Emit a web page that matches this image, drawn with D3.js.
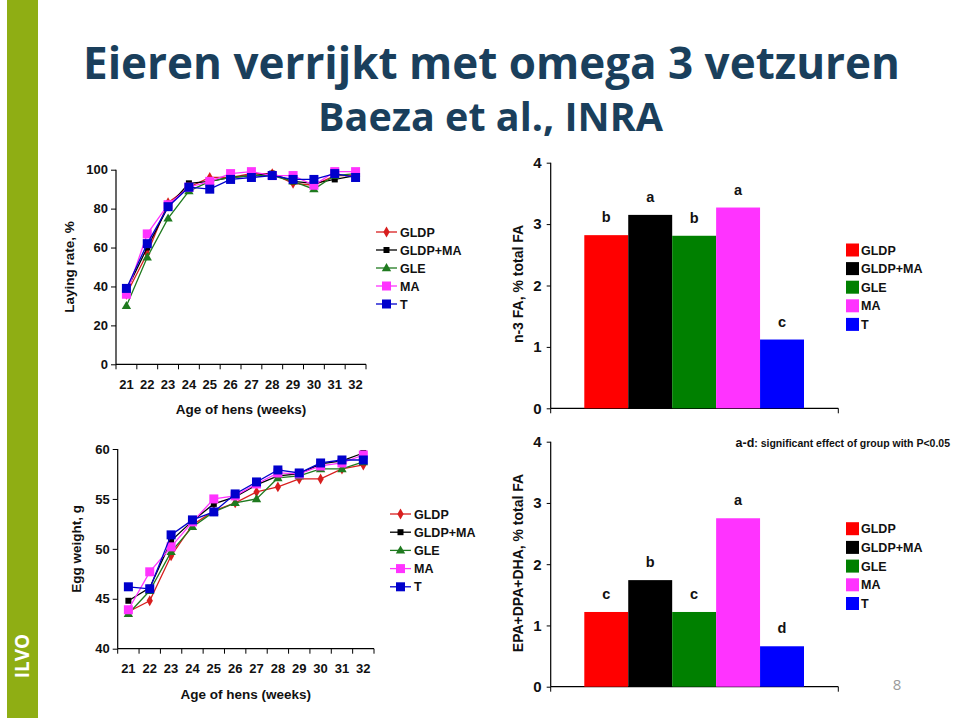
<!DOCTYPE html>
<html><head><meta charset="utf-8">
<script src="https://cdn.jsdelivr.net/npm/d3@7"></script>
<style>
html,body{margin:0;padding:0;background:#fff;}
svg{display:block;font-family:"Liberation Sans",Arial,sans-serif;}
</style></head>
<body>
<svg id="c" width="960" height="718"></svg>
<script>
// ---------- data ----------
const weeks = ["21","22","23","24","25","26","27","28","29","30","31","32"];
const groups = ["GLDP","GLDP+MA","GLE","MA","T"];

const layingGLDP   = [36,57,83,91,96,96,98,98,93,92,97,97];
const layingGLDPMA = [38,60,81,93,94,96,97,98,94,93,95,97];
const layingGLE    = [30,55,75,89,94,96,97,97,94,90,97,98];
const layingMA     = [36,67,82,91,94,98,99,97,97,92,99,99];
const layingT      = [39,62,81,91,90,95,96,97,95,95,98,96];

const eggGLDP   = [43.7,44.8,49.3,52.4,53.8,54.6,55.7,56.2,57.0,57.0,58.0,58.4];
const eggGLDPMA = [44.8,46.1,50.8,52.8,54.5,55.2,56.4,57.3,57.5,58.5,58.8,59.6];
const eggGLE    = [43.5,45.8,49.7,52.2,53.7,54.6,55.0,57.1,57.3,58.0,58.0,58.7];
const eggMA     = [43.9,47.7,50.2,52.7,55.0,55.3,56.5,57.6,57.5,58.3,58.6,59.4];
const eggT      = [46.2,46.0,51.4,52.9,53.7,55.5,56.7,57.9,57.6,58.6,58.9,58.9];

const n3Values  = [2.82,3.15,2.81,3.27,1.12];
const n3Letters = ["b","a","b","a","c"];
const epaValues  = [1.22,1.74,1.22,2.75,0.66];
const epaLetters = ["c","b","c","a","d"];

const layingTicks = [0,20,40,60,80,100];
const eggTicks = [40,45,50,55,60];
const barTicks = [0,1,2,3,4];

// ---------- styles ----------
const lineColors = {"GLDP":"#d81e1e","GLDP+MA":"#000000","GLE":"#1f7a1f","MA":"#ff33ff","T":"#0000cc"};
const barColors  = {"GLDP":"#ff0000","GLDP+MA":"#000000","GLE":"#008000","MA":"#ff33ff","T":"#0000ff"};
const markerType = {"GLDP":"diamond","GLDP+MA":"smallsquare","GLE":"triangle","MA":"square","T":"square"};

const svg = d3.select("#c");

// ---------- slide decoration ----------
svg.append("rect").attr("x",7).attr("y",0).attr("width",31).attr("height",718).attr("fill","#8fae14");
svg.append("text").attr("transform","translate(29,656) rotate(-90)")
  .attr("text-anchor","middle").attr("fill","#fff").attr("font-weight","bold")
  .attr("font-size",19).attr("font-family","Open Sans, sans-serif").text("ILVO");

svg.append("text").attr("x",83).attr("y",79).attr("fill","#1a3f5c")
  .attr("font-family","Open Sans, sans-serif").attr("font-weight","bold").attr("font-size",44)
  .attr("textLength",817).attr("lengthAdjust","spacingAndGlyphs")
  .text("Eieren verrijkt met omega 3 vetzuren");
svg.append("text").attr("x",318).attr("y",131).attr("fill","#1a3f5c")
  .attr("font-family","Open Sans, sans-serif").attr("font-weight","bold").attr("font-size",39)
  .attr("textLength",345).attr("lengthAdjust","spacingAndGlyphs")
  .text("Baeza et al., INRA");

// ---------- line charts ----------
function marker(g, type, color, x, y){
  if(type==="diamond"){
    g.append("path").attr("d",d3.symbol(d3.symbolDiamond,34)()).attr("transform",`translate(${x},${y})`).attr("fill",color);
  } else if(type==="triangle"){
    g.append("path").attr("d",d3.symbol(d3.symbolTriangle,38)()).attr("transform",`translate(${x},${y+0.5})`).attr("fill",color);
  } else if(type==="smallsquare"){
    g.append("rect").attr("x",x-3).attr("y",y-3).attr("width",6).attr("height",6).attr("fill",color);
  } else {
    g.append("rect").attr("x",x-4.5).attr("y",y-4.5).attr("width",9).attr("height",9).attr("fill",color);
  }
}

function lineChart(opt){
  const g = svg.append("g");
  const x = d3.scaleBand().domain(weeks).range([opt.x0,opt.x1]);
  const y = d3.scaleLinear().domain(opt.domain).range([opt.yb,opt.yt]);
  const ya = g.append("g").attr("transform",`translate(${opt.x0},0)`)
    .call(d3.axisLeft(y).tickValues(opt.ticks).tickSize(5).tickPadding(3));
  ya.select(".domain").attr("stroke","#000").attr("stroke-width",1.2).attr("d",`M0,${opt.yb}V${opt.yt}`);
  ya.selectAll("line").attr("stroke","#000");
  ya.selectAll("text").attr("font-size",13).attr("font-weight","bold").attr("font-family","Liberation Sans, Arial").attr("fill","#111");
  const xa = g.append("g").attr("transform",`translate(0,${opt.yb})`)
    .call(d3.axisBottom(x).tickSize(0).tickPadding(15));
  xa.select(".domain").attr("stroke","#000").attr("stroke-width",1.2).attr("d",`M${opt.x0},0H${opt.x1}`);
  xa.selectAll("text").attr("font-size",13).attr("font-weight","bold").attr("font-family","Liberation Sans, Arial").attr("fill","#111");
  const bounds = weeks.map(w=>x(w)).concat([opt.x1]);
  g.selectAll(".xt").data(bounds).enter().append("line")
    .attr("x1",d=>d).attr("x2",d=>d).attr("y1",opt.yb).attr("y2",opt.yb+5).attr("stroke","#000");
  g.append("text").attr("x",(opt.x0+opt.x1)/2).attr("y",opt.yb+50).attr("text-anchor","middle")
    .attr("font-size",13.5).attr("font-weight","bold").attr("fill","#111").text("Age of hens (weeks)");
  g.append("text").attr("transform",`translate(${opt.ytx},${(opt.yb+opt.yt)/2}) rotate(-90)`)
    .attr("text-anchor","middle").attr("font-size",13.5).attr("font-weight","bold").attr("fill","#111").text(opt.ytitle);
  const line = d3.line().x((d,i)=>x(weeks[i])+x.bandwidth()/2).y(d=>y(d));
  groups.forEach((s,k)=>{
    const vals = opt.data[k];
    g.append("path").attr("d",line(vals)).attr("fill","none").attr("stroke",lineColors[s]).attr("stroke-width",1.3);
    vals.forEach((v,i)=>marker(g,markerType[s],lineColors[s],x(weeks[i])+x.bandwidth()/2,y(v)));
  });
  groups.forEach((s,k)=>{
    const ly = opt.legY + k*opt.legStep;
    g.append("line").attr("x1",opt.legX).attr("x2",opt.legX+21).attr("y1",ly).attr("y2",ly)
      .attr("stroke",lineColors[s]).attr("stroke-width",1.3);
    marker(g,markerType[s],lineColors[s],opt.legX+10.5,ly);
    g.append("text").attr("x",opt.legX+24).attr("y",ly+4.5).attr("font-size",12.5)
      .attr("font-weight","bold").attr("fill","#111").text(s);
  });
}

lineChart({x0:116,x1:366,yb:364.3,yt:169.7,domain:[0,100],ticks:layingTicks,
  data:[layingGLDP,layingGLDPMA,layingGLE,layingMA,layingT],
  ytitle:"Laying rate, %",ytx:74,legX:376,legY:232,legStep:18});

lineChart({x0:117.7,x1:374,yb:648.7,yt:449,domain:[40,60],ticks:eggTicks,
  data:[eggGLDP,eggGLDPMA,eggGLE,eggMA,eggT],
  ytitle:"Egg weight, g",ytx:81,legX:390,legY:514,legStep:18.2});

// ---------- bar charts ----------
function barChart(opt){
  const g = svg.append("g");
  const x = d3.scaleBand().domain(groups).range([opt.x0+33.6,opt.x1-34.3]);
  const y = d3.scaleLinear().domain([0,4]).range([opt.yb,opt.yt]);
  const ya = g.append("g").attr("transform",`translate(${opt.x0},0)`)
    .call(d3.axisLeft(y).tickValues(barTicks).tickSize(4).tickPadding(5).tickFormat(d3.format("d")));
  ya.select(".domain").attr("stroke","#000").attr("stroke-width",1.2).attr("d",`M0,${opt.yb}V${opt.yt}`);
  ya.selectAll("text").attr("font-size",15).attr("font-weight","bold").attr("fill","#111");
  g.append("line").attr("x1",opt.x0).attr("x2",opt.x1).attr("y1",opt.yb).attr("y2",opt.yb).attr("stroke","#000").attr("stroke-width",1.2);
  [opt.x0,opt.x1].forEach(px=>g.append("line").attr("x1",px).attr("x2",px).attr("y1",opt.yb).attr("y2",opt.yb+5).attr("stroke","#000"));
  g.selectAll(".bar").data(groups).enter().append("rect")
    .attr("x",d=>x(d)).attr("width",x.bandwidth())
    .attr("y",(d,i)=>y(opt.values[i])).attr("height",(d,i)=>opt.yb-y(opt.values[i]))
    .attr("fill",d=>barColors[d]);
  g.selectAll(".lab").data(groups).enter().append("text")
    .attr("x",d=>x(d)+x.bandwidth()/2).attr("y",(d,i)=>y(opt.values[i])-13)
    .attr("text-anchor","middle").attr("font-size",14.5).attr("font-weight","bold").attr("fill","#111")
    .text((d,i)=>opt.letters[i]);
  g.append("text").attr("transform",`translate(${opt.ytx},${opt.ytc}) rotate(-90)`)
    .attr("text-anchor","middle").attr("font-size",14).attr("font-weight","bold").attr("fill","#111").text(opt.ytitle);
  groups.forEach((s,k)=>{
    const ly = opt.legY + k*opt.legStep;
    g.append("rect").attr("x",846).attr("y",ly-6.5).attr("width",13).attr("height",13).attr("fill",barColors[s]);
    g.append("text").attr("x",861).attr("y",ly+4.5).attr("font-size",12.5).attr("font-weight","bold").attr("fill","#111").text(s);
  });
}

barChart({x0:550.7,x1:838.3,yb:408.3,yt:162.7,values:n3Values,letters:n3Letters,
  ytitle:"n-3 FA, % total FA",ytx:523,ytc:284,legY:250,legStep:18.6});
barChart({x0:550.7,x1:838.3,yb:686.7,yt:441.7,values:epaValues,letters:epaLetters,
  ytitle:"EPA+DPA+DHA, % total FA",ytx:523,ytc:563,legY:528.7,legStep:18.7});

const note = svg.append("text").attr("x",950).attr("y",447).attr("text-anchor","end").attr("fill","#111").attr("font-weight","bold");
note.append("tspan").attr("font-size",12.5).text("a-d");
note.append("tspan").attr("font-size",10.5).text(": significant effect of group with P<0.05");

svg.append("text").attr("x",897).attr("y",690).attr("text-anchor","middle").attr("font-size",15)
  .attr("fill","#9a9a9a").attr("font-family","Open Sans, sans-serif").text("8");
</script>
</body></html>
